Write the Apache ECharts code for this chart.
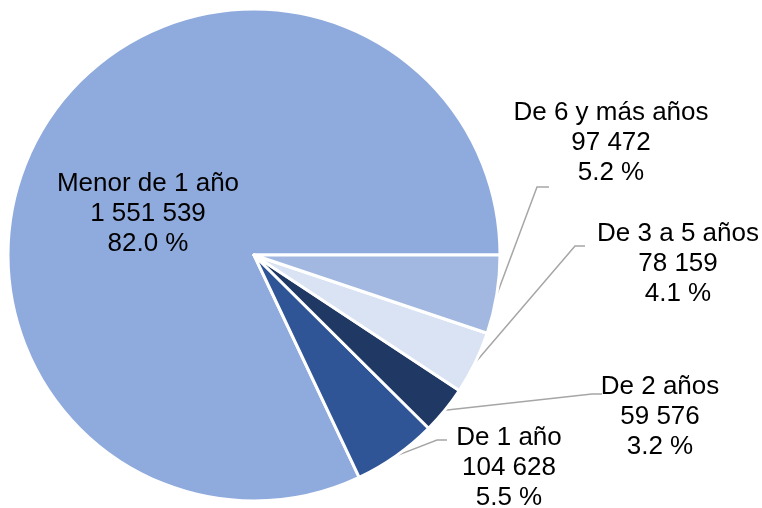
<!DOCTYPE html>
<html>
<head>
<meta charset="utf-8">
<script src="https://cdn.jsdelivr.net/npm/echarts@6/dist/echarts.min.js"></script>
<style>
  html, body { margin: 0; padding: 0; background: #fff; }
  #chart { width: 762px; height: 508px; }
</style>
</head>
<body>
<div id="chart"></div>
<script>
// data
const categories = ["Menor de 1 año", "De 1 año", "De 2 años", "De 3 a 5 años", "De 6 y más años"];
const values = [1551539, 104628, 59576, 78159, 97472];
const percents = ["82.0", "5.5", "3.2", "4.1", "5.2"];

const colors = ["#8FAADC", "#2F5597", "#203864", "#DAE3F3", "#A2B8E1"];

// where each label sits, and the bend of its leader line
const labelPos = [
  { x: 148, y: 214 },
  { x: 509, y: 468, bend: [437, 440], end: [447, 440] },
  { x: 660, y: 417, bend: [592, 394], end: [602, 394] },
  { x: 678, y: 264, bend: [575, 246], end: [585, 246] },
  { x: 611, y: 143, bend: [537, 187], end: [549, 187] }
];

function fmt(n) {
  return String(n).replace(/\B(?=(\d{3})+(?!\d))/g, " ");
}

const pieData = categories.map(function (name, i) {
  const item = { name: name, value: values[i], itemStyle: { color: colors[i] } };
  if (i === 0) {
    item.label = { position: "inside" };
    item.labelLine = { show: false };
  }
  return item;
});

const chart = echarts.init(document.getElementById("chart"), null, { renderer: "canvas" });

chart.setOption({
  animation: false,
  backgroundColor: "#ffffff",
  series: [{
    type: "pie",
    center: [254, 255],
    radius: 246,
    startAngle: 0,
    clockwise: false,
    itemStyle: { borderColor: "#ffffff", borderWidth: 3 },
    label: {
      show: true,
      position: "outside",
      color: "#000000",
      fontFamily: "Liberation Sans",
      fontSize: 26,
      lineHeight: 30,
      align: "center",
      formatter: function (p) {
        return p.name + "\n" + fmt(p.value) + "\n" + percents[p.dataIndex] + " %";
      }
    },
    labelLine: {
      show: true,
      lineStyle: { color: "#A6A6A6", width: 1.5 }
    },
    labelLayout: function (params) {
      const lp = labelPos[params.dataIndex];
      const out = { x: lp.x, y: lp.y, align: "center", verticalAlign: "middle" };
      if (lp.bend && params.labelLinePoints) {
        out.labelLinePoints = [params.labelLinePoints[0], lp.bend, lp.end];
      }
      return out;
    },
    data: pieData
  }]
});
</script>
</body>
</html>
